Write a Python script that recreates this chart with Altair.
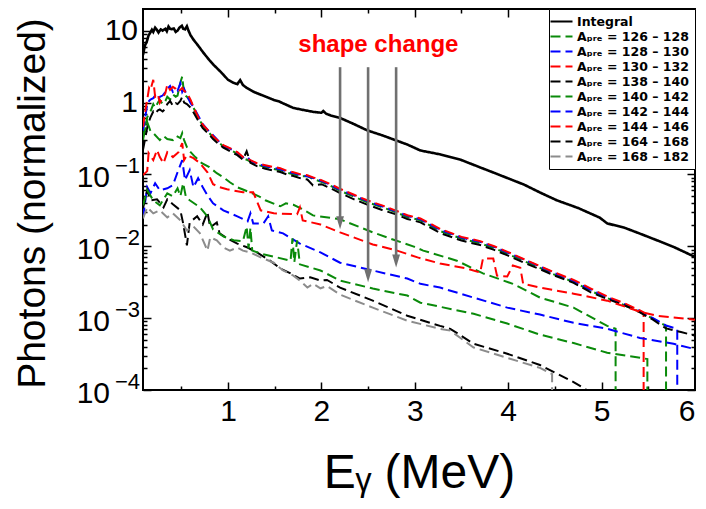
import altair as alt
import pandas as pd

FONT = "Liberation Sans"
W, H = 552, 381
DROP = 1e-7  # below the axis: a spectrum that ends drops vertically out of the frame

# ---------------- legend / series ----------------
series_names = ["Integral",
                "Aₚᵣₑ = 126 – 128", "Aₚᵣₑ = 128 – 130", "Aₚᵣₑ = 130 – 132",
                "Aₚᵣₑ = 138 – 140", "Aₚᵣₑ = 140 – 142", "Aₚᵣₑ = 142 – 144",
                "Aₚᵣₑ = 144 – 146", "Aₚᵣₑ = 164 – 168", "Aₚᵣₑ = 168 – 182"]
series_colors = ["#000000", "#0a8a0a", "#0000ff", "#ff0000", "#000000",
                 "#0a8a0a", "#0000ff", "#ff0000", "#000000", "#8c8c8c"]
series_dash = [[1, 0]] + [[10, 5]] * 9

# ---------------- integral spectrum ----------------
integral_e = [0.09, 0.11, 0.13, 0.15, 0.16, 0.185, 0.20, 0.22, 0.24, 0.256, 0.28, 0.30, 0.33, 0.345,
              0.363, 0.38, 0.40, 0.42, 0.44, 0.46, 0.48, 0.506, 0.52, 0.54, 0.56, 0.577, 0.60, 0.63,
              0.68, 0.738, 0.80, 0.845, 0.90, 0.952, 1.0, 1.059, 1.10, 1.13, 1.16, 1.20, 1.273, 1.38,
              1.487, 1.55, 1.60, 1.70, 1.80, 1.915, 2.0, 2.02, 2.05, 2.1, 2.2, 2.35, 2.49, 2.65, 2.79,
              2.92, 3.06, 3.27, 3.49, 3.70, 3.85, 4.0, 4.17, 4.34, 4.52, 4.75, 4.98, 5.06, 5.25, 5.41,
              5.6, 5.77, 6.0]
integral_v = [4.6, 6.2, 7.0, 8.6, 9.0, 10.3, 9.6, 11.0, 10.2, 9.4, 10.4, 10.0, 10.6, 9.8,
              11.4, 10.6, 10.5, 10.7, 9.6, 10.0, 11.0, 11.7, 10.6, 10.4, 11.5, 10.0, 8.6, 7.5,
              6.2, 4.9, 3.9, 3.35, 2.85, 2.43, 2.07, 1.88, 1.80, 2.05, 1.75, 1.6, 1.41, 1.24,
              1.09, 1.03, 0.96, 0.84, 0.79, 0.74, 0.72, 0.76, 0.70, 0.66, 0.61, 0.50, 0.41, 0.35, 0.30,
              0.26, 0.215, 0.19, 0.16, 0.125, 0.105, 0.088, 0.072, 0.056, 0.0436, 0.034, 0.025, 0.0208,
              0.018, 0.015, 0.012, 0.0098, 0.0071]

# ---------------- upper bundle of four spectra ----------------
top_e = [0.09, 0.12, 0.135, 0.155, 0.17, 0.20, 0.22, 0.25, 0.27, 0.30,
         0.33, 0.35, 0.38, 0.41, 0.44, 0.46, 0.49, 0.51, 0.53, 0.56,
         0.60, 0.63, 0.68, 0.73, 0.78, 0.84, 0.90, 0.95, 1.02, 1.10,
         1.16, 1.20, 1.24, 1.31, 1.40, 1.48, 1.56, 1.63, 1.70, 1.78,
         1.85, 1.91, 2.0, 2.1, 2.2, 2.35, 2.49, 2.65, 2.79, 2.92,
         3.06, 3.27, 3.50, 3.70, 3.85, 4.0, 4.17, 4.34, 4.50, 4.70,
         4.88, 5.06, 5.25, 5.41]
g1_v = [0.30, 0.50, 0.62, 0.70, 0.75, 0.95, 0.85, 1.0, 1.09, 0.95,
        1.05, 1.2, 1.1, 1.3, 1.2, 1.25, 1.9, 2.3, 1.3, 1.2,
        1.05, 0.85, 0.62, 0.48, 0.40, 0.33, 0.28, 0.245, 0.22, 0.195,
        0.168, 0.16, 0.15, 0.136, 0.127, 0.12, 0.114, 0.106, 0.10, 0.094,
        0.095, 0.086, 0.079, 0.069, 0.059, 0.049, 0.041, 0.035, 0.030, 0.0255,
        0.023, 0.0163, 0.0128, 0.011, 0.0094, 0.0078, 0.0062, 0.0050, 0.0040, 0.0032,
        0.0024, 0.0019, 0.0015, 0.00122]
g1_tail_e = [5.55, 5.69, 5.69]
g1_tail_v = [0.00098, 0.00078, DROP]
b1_v = [0.40, 0.70, 0.95, 1.05, 1.1, 1.15, 1.25, 1.1, 1.2, 1.25,
        1.4, 1.55, 1.7, 1.4, 1.5, 1.45, 1.85, 1.4, 1.55, 1.25,
        0.98, 0.87, 0.66, 0.50, 0.42, 0.35, 0.29, 0.25, 0.228, 0.20,
        0.172, 0.18, 0.155, 0.14, 0.131, 0.124, 0.118, 0.110, 0.104, 0.098,
        0.094, 0.089, 0.081, 0.071, 0.061, 0.051, 0.0425, 0.036, 0.031, 0.0265,
        0.0238, 0.0170, 0.0132, 0.0115, 0.0098, 0.0081, 0.0065, 0.0052, 0.0042, 0.0033,
        0.0025, 0.00195, 0.00155, 0.00125]
b1_tail_e = [5.55, 5.69, 5.81, 5.81]
b1_tail_v = [0.00100, 0.00079, 0.00071, DROP]
r1_v = [0.46, 0.85, 1.09, 1.6, 1.5, 2.07, 1.2, 1.3, 0.99, 1.15,
        1.36, 1.76, 1.5, 1.65, 1.55, 1.41, 1.5, 1.6, 1.45, 1.36,
        1.09, 0.87, 0.63, 0.49, 0.42, 0.34, 0.29, 0.256, 0.232, 0.204,
        0.174, 0.168, 0.158, 0.143, 0.134, 0.127, 0.122, 0.112, 0.107, 0.100,
        0.097, 0.091, 0.083, 0.073, 0.063, 0.052, 0.0436, 0.037, 0.0316, 0.027,
        0.0244, 0.0175, 0.0135, 0.0118, 0.0100, 0.0083, 0.0066, 0.0053, 0.0043, 0.0034,
        0.0026, 0.0020, 0.0016, 0.00128]
r1_tail_e = [5.45, 5.45]
r1_tail_v = [0.0012, DROP]
k1_v = [0.22, 0.35, 0.45, 0.55, 0.62, 0.75, 0.70, 0.78, 0.80, 0.75,
        0.82, 0.95, 1.05, 0.90, 0.98, 0.95, 1.05, 1.2, 1.0, 0.95,
        0.85, 0.73, 0.56, 0.44, 0.38, 0.31, 0.265, 0.235, 0.21, 0.185,
        0.16, 0.21, 0.145, 0.13, 0.12, 0.113, 0.108, 0.10, 0.095, 0.088,
        0.085, 0.07, 0.073, 0.064, 0.055, 0.045, 0.038, 0.032, 0.028, 0.024,
        0.0215, 0.0153, 0.0120, 0.0104, 0.0089, 0.0074, 0.0059, 0.0048, 0.0039, 0.0031,
        0.0023, 0.00185, 0.0015, 0.0012]
k1_tail_e = [5.55, 5.69, 5.85, 6.0]
k1_tail_v = [0.00095, 0.00072, 0.00064, 0.00057]

# ---------------- lower spectra ----------------
g2_e = [0.09, 0.135, 0.17, 0.20, 0.27, 0.31, 0.35, 0.41, 0.45, 0.49, 0.51, 0.53, 0.56, 0.60, 0.65,
        0.72, 0.80, 0.88, 0.95, 1.02, 1.10, 1.18, 1.26, 1.33, 1.40, 1.56, 1.62, 1.70, 1.78, 1.91,
        2.2, 2.55, 2.79, 2.99, 3.09, 3.45, 3.73, 4.05, 4.34, 4.70, 5.06, 5.15, 5.15]
g2_v = [0.331, 0.536, 0.401, 0.376, 0.30, 0.342, 0.31, 0.30, 0.342, 0.32, 0.376, 0.30, 0.24, 0.204, 0.174,
        0.143, 0.126, 0.104, 0.0914, 0.0778, 0.0662, 0.0601, 0.0546, 0.0496, 0.0436, 0.036, 0.0396, 0.0378,
        0.0337, 0.0269, 0.0237, 0.0156, 0.0121, 0.0099, 0.0087, 0.0063, 0.0042, 0.0030, 0.00193, 0.0014,
        0.00078, 0.00071, DROP]
r3_e = [0.09, 0.135, 0.15, 0.20, 0.24, 0.27, 0.31, 0.35, 0.41, 0.47, 0.51, 0.53, 0.56, 0.63, 0.70,
        0.78, 0.84, 0.91, 0.99, 1.10, 1.16, 1.27, 1.31, 1.35, 1.49, 1.74, 1.77, 1.80, 1.99, 2.2,
        2.55, 2.81, 3.03, 3.27, 3.56, 3.70, 3.73, 3.84, 3.88, 3.99, 4.05, 4.13, 4.16, 4.34, 4.70,
        5.06, 5.41, 5.59, 6.0]
r3_v = [0.098, 0.111, 0.198, 0.158, 0.218, 0.174, 0.143, 0.204, 0.174, 0.204, 0.273, 0.158, 0.185, 0.168,
        0.143, 0.107, 0.073, 0.0662, 0.0621, 0.0582, 0.0564, 0.0564, 0.0423, 0.0316, 0.0287, 0.0278,
        0.0348, 0.0229, 0.0201, 0.0156, 0.0106, 0.0087, 0.0070, 0.00575, 0.0049, 0.0043, 0.00676,
        0.00676, 0.0039, 0.0038, 0.0054, 0.0050, 0.0030, 0.00266, 0.00219, 0.00175, 0.00123, 0.00108,
        0.00095]
b3_e = [0.09, 0.135, 0.17, 0.22, 0.27, 0.35, 0.41, 0.46, 0.51, 0.54, 0.59, 0.63, 0.68, 0.73, 0.78,
        0.84, 0.95, 1.10, 1.21, 1.24, 1.27, 1.38, 1.43, 1.47, 1.59, 1.77, 1.99, 2.2, 2.55, 2.92,
        3.06, 3.27, 3.63, 3.99, 4.34, 4.70, 5.06, 5.41, 5.77, 6.0]
b3_v = [0.0252, 0.0662, 0.0546, 0.0753, 0.060, 0.0641, 0.0706, 0.107, 0.158, 0.083, 0.115, 0.0662,
        0.0885, 0.0662, 0.0512, 0.0396, 0.0316, 0.0261, 0.0222, 0.0287, 0.0208, 0.0208, 0.0261, 0.0166,
        0.0151, 0.0109, 0.0082, 0.0059, 0.0046, 0.00355, 0.0030, 0.00266, 0.00193, 0.0014, 0.00112,
        0.00086, 0.00071, 0.00053, 0.00044, 0.00037]
g4_e = [0.09, 0.135, 0.20, 0.27, 0.35, 0.41, 0.46, 0.49, 0.52, 0.55, 0.59, 0.70, 0.78, 0.84, 0.95,
        1.06, 1.16, 1.20, 1.22, 1.24, 1.26, 1.35, 1.67, 1.69, 1.71, 1.74, 1.77, 1.99, 2.2, 2.55,
        2.92, 3.06, 3.27, 3.63, 3.99, 4.34, 4.70, 5.06, 5.49, 5.49]
g4_v = [0.0371, 0.060, 0.0436, 0.0371, 0.0546, 0.0496, 0.0641, 0.0496, 0.0753, 0.0481, 0.0436, 0.0348,
        0.0261, 0.0172, 0.0137, 0.0121, 0.0117, 0.0189, 0.0093, 0.0180, 0.0087, 0.0079, 0.0063, 0.0129,
        0.0060, 0.0121, 0.0056, 0.0046, 0.00333, 0.00258, 0.00206, 0.00164, 0.00144, 0.00115, 0.00084,
        0.00059, 0.00045, 0.00033, 0.00027, DROP]
kl_e = [0.09, 0.135, 0.17, 0.24, 0.31, 0.35, 0.41, 0.49, 0.52, 0.56, 0.59, 0.67, 0.73, 0.78, 0.81,
        0.88, 0.91, 0.99, 1.10, 1.21, 1.31, 1.45, 1.56, 1.67, 1.77, 1.88, 1.99, 2.06, 2.2, 2.55,
        2.92, 3.27, 3.38, 3.63, 3.99, 4.34, 4.70, 4.90]
kl_v = [0.0337, 0.060, 0.0436, 0.045, 0.0348, 0.045, 0.0384, 0.0316, 0.0208, 0.0103, 0.0215, 0.0261,
        0.0201, 0.0297, 0.0183, 0.0215, 0.0151, 0.0129, 0.0109, 0.0096, 0.0082, 0.0063, 0.0049, 0.0042,
        0.00355, 0.0037, 0.00333, 0.0034, 0.00266, 0.00175, 0.00108, 0.00078, 0.00071, 0.00044, 0.00032,
        0.000223, 0.000129, 0.00009]
gr_e = [0.09, 0.135, 0.20, 0.27, 0.35, 0.41, 0.49, 0.56, 0.63, 0.70, 0.78, 0.81, 0.88, 0.95, 1.02,
        1.10, 1.16, 1.24, 1.35, 1.49, 1.59, 1.70, 1.77, 1.85, 1.91, 1.99, 2.06, 2.2, 2.55, 2.92,
        3.27, 3.38, 3.63, 3.99, 4.34, 4.47, 4.47]
gr_v = [0.0244, 0.0348, 0.0287, 0.0316, 0.0252, 0.0287, 0.0229, 0.0166, 0.0189, 0.0151, 0.0087, 0.0133,
        0.0121, 0.0096, 0.0087, 0.0096, 0.0087, 0.0082, 0.0070, 0.0059, 0.0046, 0.0039, 0.00333, 0.00266,
        0.0030, 0.0026, 0.0028, 0.00212, 0.0014, 0.00092, 0.00071, 0.00067, 0.00039, 0.00028, 0.000203,
        0.000167, DROP]

# ---------------- annotations ----------------
arrow_e = [2.2, 2.5, 2.8]
arrow_from = [3.1, 3.1, 3.1]
arrow_to = [0.0212, 0.00388, 0.00623]
note_e = [2.61]
note_v = [5.1]
note_text = ["shape change"]

decade_vals = [10, 1, 0.1, 0.01, 0.001, 0.0001]
decade_base = ["10", "1", "10", "10", "10", "10"]
decade_exp = ["", "", "−1", "−2", "−3", "−4"]

x_major = [1, 2, 3, 4, 5]
x_minor = [0.5, 1.5, 2.5, 3.5, 4.5, 5.5]
y_major = [0.0001, 0.001, 0.01, 0.1, 1, 10]
y_minor = [k * d for d in [0.0001, 0.001, 0.01, 0.1, 1] for k in range(2, 10)]

# ---------------- tables ----------------
rows = []


def add(curve, series, es, vs):
    assert len(es) == len(vs), curve
    for i, (e, v) in enumerate(zip(es, vs)):
        rows.append({"curve": curve, "series": series, "E": e, "v": v, "idx": i})


add("int", series_names[0], integral_e, integral_v)
add("g1", series_names[1], top_e + g1_tail_e, g1_v + g1_tail_v)
add("b1", series_names[2], top_e + b1_tail_e, b1_v + b1_tail_v)
add("r1", series_names[3], top_e + r1_tail_e, r1_v + r1_tail_v)
add("k1", series_names[4], top_e + k1_tail_e, k1_v + k1_tail_v)
add("g2", series_names[5], g2_e, g2_v)
add("b3", series_names[6], b3_e, b3_v)
add("r3", series_names[7], r3_e, r3_v)
add("kl", series_names[8], kl_e, kl_v)
add("gr", series_names[9], gr_e, gr_v)
add("g4", series_names[5], g4_e, g4_v)
df = pd.DataFrame(rows)
df_int = df[df.curve == "int"]
df_dash = df[df.curve != "int"]

arrows = pd.DataFrame({"E": arrow_e, "y1": arrow_from, "y2": arrow_to})
notes = pd.DataFrame({"E": note_e, "v": note_v, "t": note_text})
ylab = pd.DataFrame({"v": decade_vals, "base": decade_base, "exp": decade_exp})

x_scale = alt.Scale(type="linear", domain=[0.09, 6.0], nice=False, zero=False)
y_scale = alt.Scale(type="log", domain=[1e-4, 20], nice=False)
color_scale = alt.Scale(domain=series_names, range=series_colors)
dash_scale = alt.Scale(domain=series_names, range=series_dash)

legend = alt.Legend(title=None, orient="top-right", offset=0, padding=6,
                    strokeColor="black", fillColor="white",
                    symbolType="M-2,0H2", symbolSize=121, symbolStrokeWidth=2,
                    labelFont="DejaVu Sans", labelFontSize=12.5, labelFontWeight="bold",
                    labelColor="black", labelOffset=9, rowPadding=2, labelLimit=300)


def tick_axis(orient, offset, values, size):
    return alt.Axis(orient=orient, offset=offset, values=values, tickSize=size, ticks=True,
                    labels=False, domain=False, grid=False, title=None,
                    tickColor="black", tickWidth=1.5)


x_main = alt.Axis(orient="bottom", values=[1, 2, 3, 4, 5, 6], format="d", ticks=False, domain=False,
                  grid=False, labelFont=FONT, labelFontSize=30, labelPadding=6, labelColor="black",
                  title="Eᵧ (MeV)", titleFont=FONT, titleFontSize=48, titleFontWeight="normal",
                  titleColor="black", titleX=276, titleY=97, titleAlign="center",
                  titleBaseline="alphabetic")
y_main = alt.Axis(orient="left", labels=False, ticks=False, domain=False, grid=False,
                  title="Photons (normalized)", titleFont=FONT, titleFontSize=39,
                  titleFontWeight="normal", titleColor="black", titleX=-111, titleY=194,
                  titleAngle=270, titleAlign="center", titleBaseline="middle")

enc_common = dict(
    color=alt.Color("series:N", scale=color_scale, legend=legend),
    strokeDash=alt.StrokeDash("series:N", scale=dash_scale, legend=legend),
    detail="curve:N",
    order="idx:Q",
)

integral = alt.Chart(df_int).mark_line(strokeWidth=2.6, clip=True).encode(
    x=alt.X("E:Q", scale=x_scale, axis=x_main),
    y=alt.Y("v:Q", scale=y_scale, axis=y_main),
    **enc_common,
)

dashed = alt.Chart(df_dash).mark_line(strokeWidth=2, clip=True).encode(
    x=alt.X("E:Q", scale=x_scale, axis=tick_axis("top", -H, x_major, 8)),
    y=alt.Y("v:Q", scale=y_scale, axis=tick_axis("right", -W, y_major, 8)),
    **enc_common,
)

arrow_lines = alt.Chart(arrows).mark_rule(color="#707070", strokeWidth=2.6).encode(
    x=alt.X("E:Q", scale=x_scale, axis=tick_axis("top", -H, x_minor, 4)),
    y=alt.Y("y1:Q", scale=y_scale, axis=tick_axis("right", -W, y_minor, 4)),
    y2="y2:Q",
)

arrow_heads = alt.Chart(arrows).mark_point(shape="M-0.6,-1L0.6,-1L0,1Z", filled=True, size=169,
                                           color="#707070", opacity=1).encode(
    x=alt.X("E:Q", scale=x_scale, axis=tick_axis("bottom", -H, x_major, 8)),
    y=alt.Y("y2:Q", scale=y_scale, axis=tick_axis("left", -W, y_major, 8)),
)

note = alt.Chart(notes).mark_text(color="#ff0000", font=FONT, fontSize=24, fontWeight="bold",
                                  align="center", baseline="alphabetic").encode(
    x=alt.X("E:Q", scale=x_scale, axis=tick_axis("bottom", -H, x_minor, 4)),
    y=alt.Y("v:Q", scale=y_scale, axis=tick_axis("left", -W, y_minor, 4)),
    text="t:N",
)

ylab_plain = alt.Chart(ylab).transform_filter("datum.v >= 1").mark_text(
    font=FONT, fontSize=30, align="right", baseline="middle", dx=-5, color="black").encode(
    x=alt.value(0), y=alt.Y("v:Q", scale=y_scale, axis=None), text="base:N")
ylab_base = alt.Chart(ylab).transform_filter("datum.v < 1").mark_text(
    font=FONT, fontSize=30, align="right", baseline="middle", dx=-33, dy=4, color="black").encode(
    x=alt.value(0), y=alt.Y("v:Q", scale=y_scale, axis=None), text="base:N")
ylab_exp = alt.Chart(ylab).transform_filter("datum.v < 1").mark_text(
    font=FONT, fontSize=22, align="right", baseline="middle", dx=-3, dy=-8, color="black").encode(
    x=alt.value(0), y=alt.Y("v:Q", scale=y_scale, axis=None), text="exp:N")

chart = alt.layer(
    integral, dashed, arrow_lines, arrow_heads, note, ylab_plain, ylab_base, ylab_exp
).resolve_axis(x="independent", y="independent").properties(
    width=W, height=H,
    autosize=alt.AutoSizeParams(type="none"),
    padding={"left": 135, "top": 1, "right": 3, "bottom": 108},
).configure_view(stroke="black", strokeWidth=2)

chart.save("out.html", embed_options={"renderer": "svg", "actions": False})
